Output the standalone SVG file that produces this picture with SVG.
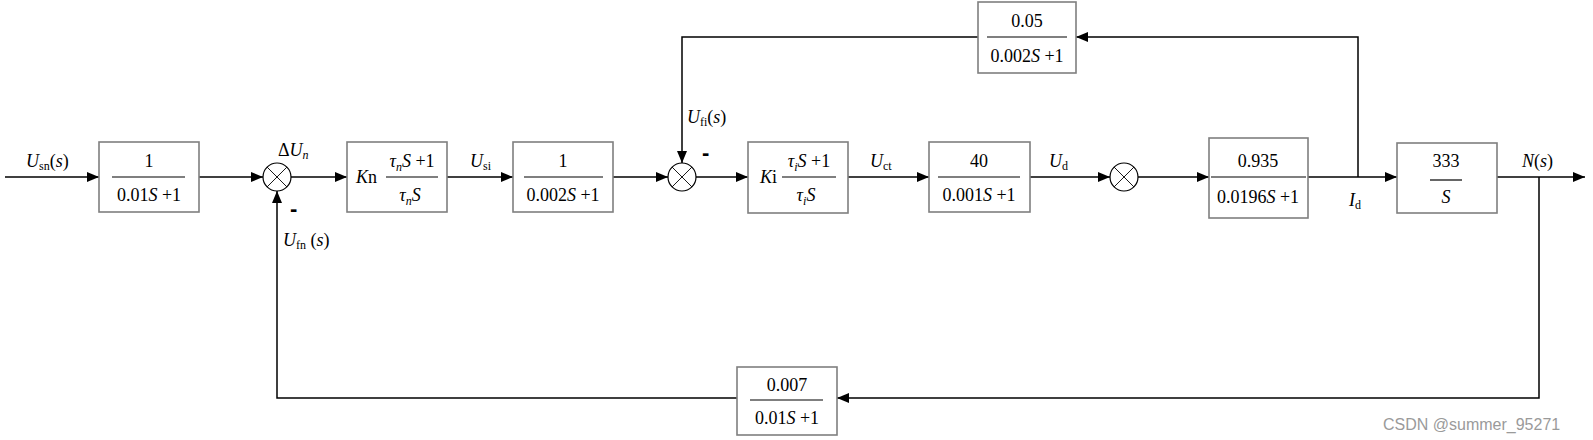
<svg xmlns="http://www.w3.org/2000/svg" width="1593" height="440" viewBox="0 0 1593 440" font-family="'Liberation Serif', 'DejaVu Serif', serif">
<style>
.box{fill:#fff;stroke:#7f7f7f;stroke-width:1.6}
.ln{fill:none;stroke:#000;stroke-width:1.5}
.bar{stroke:#000;stroke-width:1.2}
.sum{fill:#fff;stroke:#000;stroke-width:1.2}
.x{stroke:#000;stroke-width:0.9}
.f{font-family:'Liberation Serif','DejaVu Serif',serif;font-size:18px;text-anchor:middle;fill:#000}
.l{font-family:'Liberation Serif','DejaVu Serif',serif;font-size:18px;fill:#000}
.i{font-style:italic}
.sb{font-size:12px}
.m{font-family:'Liberation Sans',sans-serif;font-size:22px;font-weight:bold;fill:#000}
.wm{font-family:'Liberation Sans',Arial,sans-serif;font-size:16px;fill:#9a9a9a}
</style>
<defs>
<marker id="ar" markerWidth="12" markerHeight="10" refX="12" refY="5" orient="auto" markerUnits="userSpaceOnUse">
<path d="M0,0 L12,5 L0,10 Z" fill="#000"/>
</marker>
</defs>

<g id="connectors">
<path class="ln" d="M5,177 H99" marker-end="url(#ar)"/>
<path class="ln" d="M199,177 H263" marker-end="url(#ar)"/>
<path class="ln" d="M291,177 H347" marker-end="url(#ar)"/>
<path class="ln" d="M447,177 H513" marker-end="url(#ar)"/>
<path class="ln" d="M613,177 H668" marker-end="url(#ar)"/>
<path class="ln" d="M696,177 H748" marker-end="url(#ar)"/>
<path class="ln" d="M848,177 H929" marker-end="url(#ar)"/>
<path class="ln" d="M1030,177 H1110" marker-end="url(#ar)"/>
<path class="ln" d="M1138,177 H1209" marker-end="url(#ar)"/>
<path class="ln" d="M1308,177 H1397" marker-end="url(#ar)"/>
<path class="ln" d="M1497,177 H1585" marker-end="url(#ar)"/>
<path class="ln" d="M1358,177 V37 H1076" marker-end="url(#ar)"/>
<path class="ln" d="M978,37 H682 V163" marker-end="url(#ar)"/>
<path class="ln" d="M1539,177 V398 H837" marker-end="url(#ar)"/>
<path class="ln" d="M737,398 H277 V191" marker-end="url(#ar)"/>
</g>

<g id="sum1">
<circle class="sum" cx="277" cy="177" r="14"/>
<path class="x" d="M267.1,167.1 L286.9,186.9 M286.9,167.1 L267.1,186.9"/>
</g>
<g id="sum2">
<circle class="sum" cx="682" cy="177" r="14"/>
<path class="x" d="M672.1,167.1 L691.9,186.9 M691.9,167.1 L672.1,186.9"/>
</g>
<g id="sum3">
<circle class="sum" cx="1124" cy="177" r="14"/>
<path class="x" d="M1114.1,167.1 L1133.9,186.9 M1133.9,167.1 L1114.1,186.9"/>
</g>

<g id="block1">
<rect class="box" x="99" y="142" width="100" height="70"/>
<text class="f" x="149" y="167">1</text>
<line class="bar" x1="112" y1="177" x2="185" y2="177"/>
<text class="f" x="149" y="201">0.01<tspan class="i">S</tspan> +1</text>
</g>

<g id="blockKn">
<rect class="box" x="347" y="142" width="100" height="70"/>
<text class="l" x="356" y="183"><tspan class="i">K</tspan>n</text>
<text class="f" x="412" y="167"><tspan class="i">τ</tspan><tspan class="sb i" dy="4">n</tspan><tspan class="i" dy="-4">S</tspan> +1</text>
<line class="bar" x1="386" y1="177" x2="438" y2="177"/>
<text class="f" x="410" y="201"><tspan class="i">τ</tspan><tspan class="sb i" dy="4">n</tspan><tspan class="i" dy="-4">S</tspan></text>
</g>

<g id="block2">
<rect class="box" x="513" y="142" width="100" height="70"/>
<text class="f" x="563" y="167">1</text>
<line class="bar" x1="524" y1="177" x2="603" y2="177"/>
<text class="f" x="563" y="201">0.002<tspan class="i">S</tspan> +1</text>
</g>

<g id="blockKi">
<rect class="box" x="748" y="142" width="100" height="71"/>
<text class="l" x="760" y="183"><tspan class="i">K</tspan>i</text>
<text class="f" x="809" y="167"><tspan class="i">τ</tspan><tspan class="sb i" dy="4">i</tspan><tspan class="i" dy="-4">S</tspan> +1</text>
<line class="bar" x1="782" y1="177" x2="836" y2="177"/>
<text class="f" x="806" y="201"><tspan class="i">τ</tspan><tspan class="sb i" dy="4">i</tspan><tspan class="i" dy="-4">S</tspan></text>
</g>

<g id="block40">
<rect class="box" x="929" y="142" width="101" height="70"/>
<text class="f" x="979" y="167">40</text>
<line class="bar" x1="938" y1="177" x2="1020" y2="177"/>
<text class="f" x="979" y="201">0.001<tspan class="i">S</tspan> +1</text>
</g>

<g id="block0935">
<rect class="box" x="1209" y="138" width="99" height="80"/>
<text class="f" x="1258" y="167">0.935</text>
<line class="bar" x1="1211" y1="177" x2="1306" y2="177"/>
<text class="f" x="1258" y="203">0.0196<tspan class="i">S</tspan> +1</text>
</g>

<g id="block333">
<rect class="box" x="1397" y="143" width="100" height="70"/>
<text class="f" x="1446" y="167">333</text>
<line class="bar" x1="1430" y1="180" x2="1462" y2="180"/>
<text class="f i" x="1446" y="203">S</text>
</g>

<g id="block005">
<rect class="box" x="978" y="2" width="98" height="71"/>
<text class="f" x="1027" y="27">0.05</text>
<line class="bar" x1="987" y1="37" x2="1067" y2="37"/>
<text class="f" x="1027" y="62">0.002<tspan class="i">S</tspan> +1</text>
</g>

<g id="block0007">
<rect class="box" x="737" y="367" width="100" height="68"/>
<text class="f" x="787" y="391">0.007</text>
<line class="bar" x1="750" y1="400" x2="823" y2="400"/>
<text class="f" x="787" y="424">0.01<tspan class="i">S</tspan> +1</text>
</g>

<g id="labels">
<text class="l" x="26" y="167"><tspan class="i">U</tspan><tspan class="sb" dy="3">sn</tspan><tspan dy="-3">(</tspan><tspan class="i">s</tspan>)</text>
<text class="l" x="278" y="156">Δ<tspan class="i">U</tspan><tspan class="sb i" dy="3">n</tspan></text>
<text class="m" x="290" y="216">-</text>
<text class="l" x="283" y="246"><tspan class="i">U</tspan><tspan class="sb" dy="3">fn</tspan><tspan dy="-3"> (</tspan><tspan class="i">s</tspan>)</text>
<text class="l" x="470" y="167"><tspan class="i">U</tspan><tspan class="sb" dy="3">si</tspan></text>
<text class="l" x="687" y="123"><tspan class="i">U</tspan><tspan class="sb" dy="3">fi</tspan><tspan dy="-3">(</tspan><tspan class="i">s</tspan>)</text>
<text class="m" x="702" y="160">-</text>
<text class="l" x="870" y="167"><tspan class="i">U</tspan><tspan class="sb" dy="3">ct</tspan></text>
<text class="l" x="1049" y="167"><tspan class="i">U</tspan><tspan class="sb" dy="3">d</tspan></text>
<text class="l" x="1349" y="206"><tspan class="i">I</tspan><tspan class="sb" dy="3">d</tspan></text>
<text class="l" x="1522" y="167"><tspan class="i">N</tspan>(<tspan class="i">s</tspan>)</text>
<text class="wm" x="1383" y="430">CSDN @summer_95271</text>
</g>
</svg>
